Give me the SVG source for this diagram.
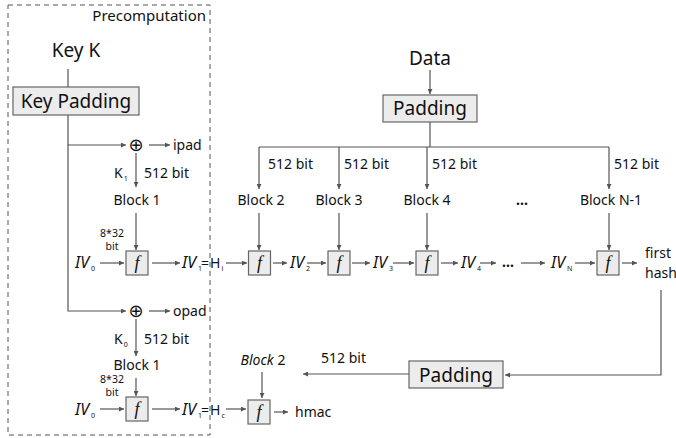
<svg xmlns="http://www.w3.org/2000/svg" width="676" height="438" viewBox="0 0 676 438">
<style>
.t{font-family:"Noto Sans","DejaVu Sans",sans-serif;fill:#111}
.l{font-size:19px}
.m{font-size:14px}
.s{font-size:10.5px}
.iv{font-family:"Noto Sans","DejaVu Sans",sans-serif;font-style:italic;font-size:16px;fill:#111}
.sub{font-size:7px;font-style:normal}
.f{font-family:"Liberation Serif","DejaVu Serif",serif;font-style:italic;font-size:18px;fill:#111}
.ln{stroke:#555;stroke-width:1.2;fill:none}
.box{fill:#ececec;stroke:#666;stroke-width:1.2}
.c{text-anchor:middle}
</style>
<defs>
<marker id="a" viewBox="0 0 10 10" refX="10" refY="5" markerWidth="6" markerHeight="5" markerUnits="userSpaceOnUse" orient="auto">
<path d="M0,0L10,5L0,10z" fill="#555"/>
</marker>
</defs>
<rect x="8" y="5" width="202" height="430" fill="none" stroke="#555" stroke-width="1" stroke-dasharray="5,4"/>
<text class="t m" x="206" y="21" text-anchor="end" style="font-size:15px">Precomputation</text>

<g id="connectors" class="ln" marker-end="url(#a)">
<line x1="68" y1="69" x2="68" y2="87" marker-end="none"/>
<polyline points="68,115 68,311 126,311"/>
<line x1="68" y1="145" x2="126" y2="145"/>
<line x1="149" y1="145" x2="170" y2="145"/>
<line x1="136" y1="153" x2="136" y2="187"/>
<line x1="136" y1="213" x2="136" y2="250"/>
<line x1="100" y1="263" x2="124" y2="263"/>
<line x1="152" y1="263" x2="180" y2="263"/>
<line x1="226" y1="263" x2="247" y2="263"/>
<line x1="273" y1="263" x2="287" y2="263"/>
<line x1="307" y1="263" x2="326" y2="263"/>
<line x1="352" y1="263" x2="370" y2="263"/>
<line x1="393" y1="263" x2="414" y2="263"/>
<line x1="441" y1="263" x2="458" y2="263"/>
<line x1="480" y1="263" x2="496" y2="263"/>
<line x1="521" y1="263" x2="545" y2="263"/>
<line x1="575" y1="263" x2="595" y2="263"/>
<line x1="622" y1="263" x2="637" y2="263"/>
<line x1="430" y1="70" x2="430" y2="94"/>
<polyline points="430,122 430,147" marker-end="none"/>
<line x1="259" y1="147" x2="609" y2="147" marker-end="none"/>
<line x1="259" y1="147" x2="259" y2="189"/>
<line x1="339" y1="147" x2="339" y2="189"/>
<line x1="427" y1="147" x2="427" y2="189"/>
<line x1="609" y1="147" x2="609" y2="189"/>
<line x1="259" y1="213" x2="259" y2="250"/>
<line x1="339" y1="213" x2="339" y2="250"/>
<line x1="427" y1="213" x2="427" y2="250"/>
<line x1="609" y1="213" x2="609" y2="250"/>
<polyline points="661,290 661,375 505,375"/>
<line x1="409" y1="374" x2="303" y2="374"/>
<line x1="262" y1="372" x2="262" y2="398"/>
<line x1="274" y1="412" x2="288" y2="412"/>
<line x1="149" y1="311" x2="170" y2="311"/>
<line x1="136" y1="319" x2="136" y2="356"/>
<line x1="136" y1="378" x2="136" y2="396"/>
<line x1="100" y1="409" x2="124" y2="409"/>
<line x1="152" y1="409" x2="180" y2="409"/>
<line x1="226" y1="409" x2="246" y2="409"/>
</g>

<g id="keyK"><text class="t l c" x="76" y="57">Key K</text></g>
<g id="keyPadding"><rect class="box" x="13" y="87" width="126" height="28"/><text class="t l c" x="76" y="108">Key Padding</text></g>
<g id="xor1"><text class="t c" x="136" y="151" style="font-size:18px">⊕</text></g>
<g id="ipad"><text class="t m" x="173" y="150">ipad</text></g>
<g id="k1"><text class="t m" x="114" y="178">K<tspan class="sub" dx="1" dy="3">1</tspan></text><text class="t m" x="144" y="178">512 bit</text></g>
<g id="block1a"><text class="t m c" x="137" y="205">Block 1</text></g>
<g id="bits1"><text class="t s c" x="112" y="237">8*32</text><text class="t s c" x="112" y="250">bit</text></g>
<g id="iv0a"><text class="iv" x="75" y="268">IV<tspan class="sub" dx="2" dy="3">0</tspan></text></g>
<g id="f1"><rect class="box" x="126" y="251" width="22" height="24"/><text class="f c" x="137" y="269">f</text></g>
<g id="iv1a"><text class="iv" x="182" y="268">IV<tspan class="sub" dx="2" dy="3">1</tspan></text><text class="t m" x="201" y="268">=</text><text class="t m" x="210" y="268">H<tspan class="sub" dx="1" dy="3">i</tspan></text></g>

<g id="data"><text class="t l c" x="430" y="65">Data</text></g>
<g id="padding1"><rect class="box" x="383" y="95" width="94" height="27"/><text class="t l c" x="430" y="115">Padding</text></g>
<g id="bits"><text class="t m" x="268" y="169">512 bit</text><text class="t m" x="344" y="169">512 bit</text><text class="t m" x="432" y="169">512 bit</text><text class="t m" x="614" y="169">512 bit</text></g>
<g id="block2"><text class="t m c" x="261" y="205">Block 2</text></g>
<g id="block3"><text class="t m c" x="339" y="205">Block 3</text></g>
<g id="block4"><text class="t m c" x="427" y="205">Block 4</text></g>
<g id="dots1"><text class="t m c" x="522" y="205" font-weight="bold">...</text></g>
<g id="blockN"><text class="t m c" x="611" y="205">Block N-1</text></g>
<g id="f2"><rect class="box" x="248.5" y="251" width="22" height="24"/><text class="f c" x="259.5" y="269">f</text></g>
<g id="iv2"><text class="iv" x="290" y="268">IV<tspan class="sub" dx="2" dy="3">2</tspan></text></g>
<g id="f3"><rect class="box" x="328" y="251" width="22" height="24"/><text class="f c" x="339" y="269">f</text></g>
<g id="iv3"><text class="iv" x="373" y="268">IV<tspan class="sub" dx="2" dy="3">3</tspan></text></g>
<g id="f4"><rect class="box" x="416" y="251" width="22" height="24"/><text class="f c" x="427" y="269">f</text></g>
<g id="iv4"><text class="iv" x="461" y="268">IV<tspan class="sub" dx="2" dy="3">4</tspan></text></g>
<g id="dots2"><text class="t m c" x="508" y="267" font-weight="bold">...</text></g>
<g id="ivN"><text class="iv" x="551" y="268">IV<tspan class="sub" dx="2" dy="3">N</tspan></text></g>
<g id="f5"><rect class="box" x="597" y="251" width="22" height="24"/><text class="f c" x="608" y="269">f</text></g>
<g id="firsthash"><text class="t m" x="645" y="258">first</text><text class="t m" x="645" y="278">hash</text></g>

<g id="padding2"><rect class="box" x="409" y="361" width="94" height="27"/><text class="t l c" x="456" y="382">Padding</text></g>
<g id="bits2"><text class="t m" x="321" y="363">512 bit</text></g>
<g id="block2b"><text class="t m c" x="263" y="365"><tspan font-style="italic">Block</tspan> 2</text></g>
<g id="f7"><rect class="box" x="248" y="400" width="22" height="24"/><text class="f c" x="259" y="418">f</text></g>
<g id="hmac"><text class="t m" x="295" y="417">hmac</text></g>

<g id="xor2"><text class="t c" x="136" y="317" style="font-size:18px">⊕</text></g>
<g id="opad"><text class="t m" x="173" y="316">opad</text></g>
<g id="k0"><text class="t m" x="114" y="344">K<tspan class="sub" dx="1" dy="3">0</tspan></text><text class="t m" x="144" y="344">512 bit</text></g>
<g id="block1b"><text class="t m c" x="137" y="370">Block 1</text></g>
<g id="bits3"><text class="t s c" x="112" y="383">8*32</text><text class="t s c" x="112" y="396">bit</text></g>
<g id="iv0b"><text class="iv" x="75" y="415">IV<tspan class="sub" dx="2" dy="3">0</tspan></text></g>
<g id="f6"><rect class="box" x="126" y="397" width="22" height="24"/><text class="f c" x="137" y="415">f</text></g>
<g id="iv1b"><text class="iv" x="182" y="415">IV<tspan class="sub" dx="2" dy="3">1</tspan></text><text class="t m" x="201" y="415">=</text><text class="t m" x="210" y="415">H<tspan class="sub" dx="1" dy="3">c</tspan></text></g>
</svg>
